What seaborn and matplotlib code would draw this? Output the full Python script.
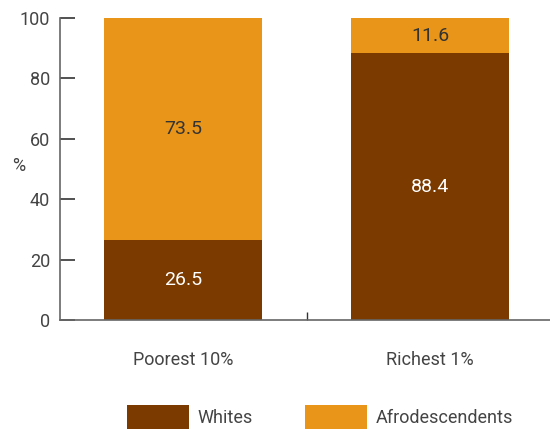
import matplotlib
matplotlib.use('Agg')
import matplotlib.pyplot as plt
import seaborn as sns
import pandas as pd

# data
groups = ['Poorest 10%', 'Richest 1%']
whites = [26.5, 88.4]
afro = [73.5, 11.6]
series_names = ['Whites', 'Afrodescendents']

brown = '#7a3a00'
orange = '#e8951a'
text_col = '#444444'

sns.set_theme(style='white')
plt.rcParams['font.family'] = ['Roboto', 'DejaVu Sans']
fs = 13

fig = plt.figure(figsize=(5.5, 4.33), dpi=100)
ax = fig.add_axes([60 / 550, 1 - 320 / 433, 1 - 60 / 550, (320 - 18) / 433])

df = pd.DataFrame({'group': groups, 'Whites': whites, 'Afro': afro})
df['total'] = df['Whites'] + df['Afro']

# stacked: draw totals (orange) then whites (brown) on top
sns.barplot(data=df, x='group', y='total', color=orange, width=0.64,
            saturation=1, ax=ax, label=series_names[1], linewidth=0)
sns.barplot(data=df, x='group', y='Whites', color=brown, width=0.64,
            saturation=1, ax=ax, label=series_names[0], linewidth=0)
if ax.get_legend() is not None:
    ax.get_legend().remove()

for i, (w, a) in enumerate(zip(whites, afro)):
    ax.text(i, w / 2, f'{w:.1f}', ha='center', va='center',
            color='white', fontsize=fs + 1)
    ax.text(i, w + a / 2, f'{a:.1f}', ha='center', va='center',
            color='#333333', fontsize=fs + 1)

ax.set_xlim(-0.5, 1.485)
ax.set_ylim(0, 100)
ax.set_yticks([0, 20, 40, 60, 80, 100])
ax.set_xlabel('')
ax.set_ylabel('%', rotation=0, fontsize=fs, color=text_col)
ax.yaxis.set_label_coords(-0.085, 0.48)

for s in ['top', 'right']:
    ax.spines[s].set_visible(False)
for s in ['left', 'bottom']:
    ax.spines[s].set_color('#666666')
    ax.spines[s].set_linewidth(1.2)

ax.tick_params(axis='y', direction='in', length=11, width=1.2, color='#333333',
               labelsize=fs, labelcolor=text_col, left=True, pad=7)
ax.set_xticks([0, 1])
ax.set_xticklabels(groups)
ax.tick_params(axis='x', length=0, labelsize=fs, labelcolor=text_col, pad=22)
ax.set_xticks([0.5], minor=True)
ax.tick_params(axis='x', which='minor', direction='in', length=6, width=1,
               color='#333333', bottom=True)

handles, labels = ax.get_legend_handles_labels()
order = [labels.index(n) for n in series_names]
fig.legend([handles[i] for i in order], [labels[i] for i in order],
           loc='lower left', bbox_to_anchor=(118 / 550, -0.012), ncol=2,
           frameon=False, fontsize=fs, handlelength=3.45, handleheight=1.7,
           handletextpad=0.45, columnspacing=2.9, borderpad=0.0,
           labelcolor=text_col)

fig.savefig('out.png', dpi=100)
